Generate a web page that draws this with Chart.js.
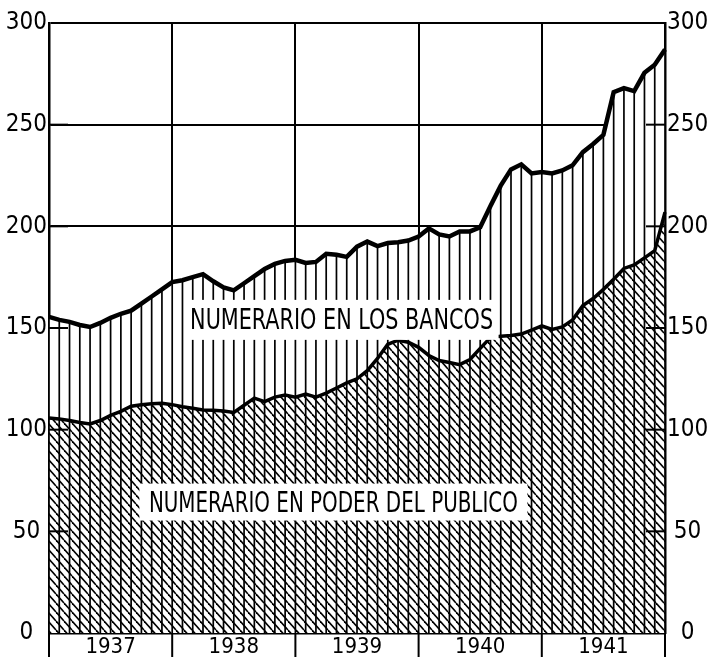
<!DOCTYPE html>
<html>
<head>
<meta charset="utf-8">
<script src="https://cdn.jsdelivr.net/npm/chart.js@4/dist/chart.umd.min.js"></script>
<style>
html,body{margin:0;padding:0;background:#fff;}
canvas{display:block;}
</style>
</head>
<body>
<canvas id="c" width="713" height="657"></canvas>
<script>
// ---- data ----
const meses = [
  'Dic 1936',
  'Ene 1937','Feb 1937','Mar 1937','Abr 1937','May 1937','Jun 1937','Jul 1937','Ago 1937','Sep 1937','Oct 1937','Nov 1937','Dic 1937',
  'Ene 1938','Feb 1938','Mar 1938','Abr 1938','May 1938','Jun 1938','Jul 1938','Ago 1938','Sep 1938','Oct 1938','Nov 1938','Dic 1938',
  'Ene 1939','Feb 1939','Mar 1939','Abr 1939','May 1939','Jun 1939','Jul 1939','Ago 1939','Sep 1939','Oct 1939','Nov 1939','Dic 1939',
  'Ene 1940','Feb 1940','Mar 1940','Abr 1940','May 1940','Jun 1940','Jul 1940','Ago 1940','Sep 1940','Oct 1940','Nov 1940','Dic 1940',
  'Ene 1941','Feb 1941','Mar 1941','Abr 1941','May 1941','Jun 1941','Jul 1941','Ago 1941','Sep 1941','Oct 1941','Nov 1941','Dic 1941'
];
const anios = ['1937','1938','1939','1940','1941'];

// Numerario en poder del público (lower line)
const publico = [
  105.7,105.3,104.5,103.5,102.8,104.5,107,109,111.5,112.3,112.8,113,
  112.3,111.3,110.5,109.7,109.5,109.2,108.5,112,115.5,113.8,116,117,
  116,117.5,116,118,120.5,123,125,129,135,142,144,143,
  140.5,136.5,134,133,132,134.5,140,145.3,146,146.3,147,149,
  151,149.3,150.5,154,161,164.5,169,174,179.3,181,184.5,188,
  207
];
// Numerario total = público + bancos (upper line)
const totalNumerario = [
  155.5,154,153,151.5,150.5,152.5,155,157,158.5,162,165.5,169,
  172.6,173.5,175,176.5,173,170,168.5,172,175.5,179,181.5,183,
  183.5,182,182.5,186.5,186,185,190,192.5,190.3,191.8,192.2,193,
  195,199,196,195,197.5,197.5,199.5,210,220,228,230.5,226,
  226.7,226,227.5,230,236.5,240.5,245,266,268,266.5,275.5,279.5,
  287
];
const etiquetaBancos = 'NUMERARIO EN LOS BANCOS';
const etiquetaPublico = 'NUMERARIO EN PODER DEL PUBLICO';

// ---- styling ----
const FONT = "'Liberation Sans Narrow','DejaVu Sans Condensed','Arial Narrow',sans-serif";

function diagPattern(){
  const w = 8, h = 9;
  const c = document.createElement('canvas');
  c.width = w; c.height = h;
  const g = c.getContext('2d');
  g.fillStyle = '#fff'; g.fillRect(0,0,w,h);
  g.strokeStyle = '#000'; g.lineWidth = 1.6;
  for (const k of [-1,0,1]) {
    g.beginPath(); g.moveTo(k*w, 0); g.lineTo((k+1)*w, h); g.stroke();
  }
  return g.createPattern(c, 'repeat');
}

const whiteBg = {
  id: 'whiteBg',
  beforeDraw(chart){
    const ctx = chart.ctx;
    ctx.save(); ctx.fillStyle = '#fff';
    ctx.fillRect(0,0,chart.width,chart.height); ctx.restore();
  }
};

// vertical monthly hatching, from the base to the total line
const hatch = {
  id: 'hatch',
  beforeDatasetsDraw(chart){
    const {ctx, scales:{x, y}} = chart;
    const y0 = y.getPixelForValue(0);
    ctx.save();
    ctx.strokeStyle = '#000'; ctx.lineWidth = 1.7;
    totalNumerario.forEach((v, i) => {
      const px = x.getPixelForValue(i);
      ctx.beginPath(); ctx.moveTo(px, y0); ctx.lineTo(px, y.getPixelForValue(v)); ctx.stroke();
    });
    ctx.restore();
  }
};

// inner ticks on both vertical axes, year ticks below axis, and area labels
const extras = {
  id: 'extras',
  afterDatasetsDraw(chart){
    const {ctx, chartArea:ca, scales:{x, y}} = chart;
    ctx.save();
    ctx.strokeStyle = '#000'; ctx.lineWidth = 2;
    y.ticks.forEach(t => {
      if (t.value <= 0 || t.value >= 300) return;
      const py = y.getPixelForValue(t.value);
      ctx.beginPath(); ctx.moveTo(ca.left, py); ctx.lineTo(ca.left + 19, py); ctx.stroke();
      ctx.beginPath(); ctx.moveTo(ca.right - 19, py); ctx.lineTo(ca.right, py); ctx.stroke();
    });
    // year boundary ticks below the axis
    for (let i = 0; i < meses.length; i += 12) {
      const px = x.getPixelForValue(i);
      ctx.beginPath(); ctx.moveTo(px, ca.bottom); ctx.lineTo(px, chart.height); ctx.stroke();
    }
    // area labels
    const drawLabel = (text, xi, yv, targetW, boxW, boxH) => {
      const cx = x.getPixelForValue(xi), cy = y.getPixelForValue(yv);
      ctx.fillStyle = '#fff';
      ctx.fillRect(cx - boxW/2, cy - boxH/2, boxW, boxH);
      ctx.font = '29px ' + FONT;
      const m = ctx.measureText(text).width;
      ctx.save();
      ctx.translate(cx, cy + 2);
      ctx.scale(targetW / m, 1);
      ctx.fillStyle = '#000'; ctx.textAlign = 'center'; ctx.textBaseline = 'middle';
      ctx.fillText(text, 0, 0);
      ctx.restore();
    };
    drawLabel(etiquetaBancos, 28.5, 154, 303, 314, 40);
    drawLabel(etiquetaPublico, 27.7, 64.4, 369, 388, 37);
    ctx.restore();
  }
};

const tickFont = {family: FONT, size: 24};

new Chart(document.getElementById('c'), {
  type: 'line',
  data: {
    labels: meses,
    datasets: [
      {
        label: 'Numerario en poder del público',
        data: publico,
        borderColor: '#000',
        borderWidth: 3.5,
        pointRadius: 0,
        tension: 0,
        fill: 'origin',
        backgroundColor: diagPattern()
      },
      {
        label: 'Numerario total (público + bancos)',
        data: totalNumerario,
        borderColor: '#000',
        borderWidth: 4.5,
        pointRadius: 0,
        tension: 0,
        fill: '-1',
        backgroundColor: '#fff'
      }
    ]
  },
  options: {
    responsive: false,
    devicePixelRatio: 1,
    animation: false,
    layout: {padding: {left: 4, top: 23, right: 0, bottom: 0}},
    plugins: {
      legend: {display: false},
      tooltip: {enabled: false},
      filler: {drawTime: 'beforeDatasetsDraw'}
    },
    scales: {
      x: {
        type: 'category',
        offset: false,
        grid: {
          color: c => (c.index % 12 === 0 ? '#000' : 'rgba(0,0,0,0)'),
          lineWidth: 2,
          drawTicks: false
        },
        border: {color: '#000', width: 2.5},
        ticks: {
          autoSkip: false, maxRotation: 0, minRotation: 0,
          color: '#000', font: {family: FONT, size: 22}, padding: 1,
          callback: (v, i) => (i % 12 === 6 ? anios[(i - 6) / 12] : '')
        },
        afterFit(s){ s.height = 24; }
      },
      y: {
        type: 'linear', position: 'left', min: 0, max: 300,
        grid: {color: '#000', lineWidth: 2, drawTicks: false},
        border: {color: '#000', width: 2.5},
        ticks: {stepSize: 50, color: '#000', font: tickFont, crossAlign: 'center', padding: 2},
        afterFit(s){ s.width = 45; }
      },
      y2: {
        type: 'linear', position: 'right', min: 0, max: 300,
        grid: {drawOnChartArea: false, drawTicks: false},
        border: {color: '#000', width: 2.5},
        ticks: {stepSize: 50, color: '#000', font: tickFont, crossAlign: 'center', padding: 2},
        afterFit(s){ s.width = 48; }
      }
    }
  },
  plugins: [whiteBg, hatch, extras]
});
</script>
</body>
</html>
